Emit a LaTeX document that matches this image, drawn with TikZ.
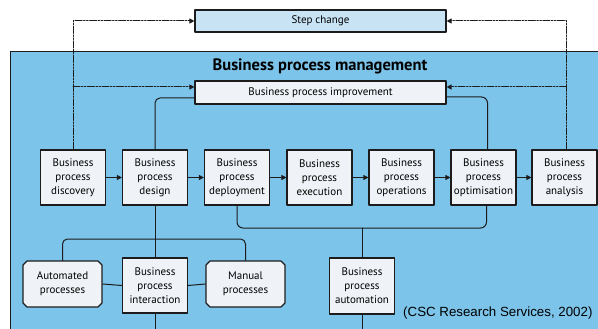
\documentclass[tikz,border=0pt]{standalone}
\usepackage{fontspec}
\setmainfont{PT Sans}
\newfontfamily\capfont{Liberation Sans}
\usetikzlibrary{arrows.meta,shapes.misc}
\definecolor{bpm_blue}{HTML}{7CC4EA}
\definecolor{step_fill}{HTML}{C8E4F4}
\definecolor{box_fill}{HTML}{EFF3F7}
\definecolor{line_dark}{HTML}{1C1C1C}

\tikzset{
    procbox/.style={draw=line_dark, fill=box_fill, line width=1.1pt,
        minimum width=65pt, minimum height=55pt, inner sep=1pt,
        align=center, font=\fontsize{11}{14}\selectfont},
    widebox/.style={draw=line_dark, line width=1.1pt, minimum width=251pt,
        minimum height=22pt, inner sep=1pt, font=\fontsize{11}{13}\selectfont},
    cutbox/.style={procbox, chamfered rectangle, chamfered rectangle xsep=2pt,
        chamfered rectangle ysep=2pt, minimum width=79pt, minimum height=46pt},
    flow/.style={line_dark, line width=1pt, -{Triangle[length=5pt,width=5pt]}},
    link/.style={line_dark, line width=1pt},
    feedback/.style={line_dark, line width=1pt,
        dash pattern=on 7pt off 1.5pt on 1.5pt off 1.5pt on 1.5pt off 1.5pt,
        -{Triangle[length=5pt,width=5pt]}},
}

\begin{document}
\begin{tikzpicture}[x=1pt, y=-1pt, line cap=round, line join=round]
    % Frame of the picture
    \clip (0,0) rectangle (598,329);
    \fill[white] (0,0) rectangle (598,329);

    % Management area
    \draw[line_dark, line width=1pt, fill=bpm_blue] (10,52) rectangle (610,340);
    \node[font=\fontsize{16.5}{18}\selectfont\bfseries] (title) at (320,66) {Business process management};

    % Top boxes
    \node[widebox, fill=step_fill] (step) at (320.5,21) {Step change};
    \node[widebox, fill=box_fill, minimum height=23pt] (bpi) at (320.5,92.5) {Business process improvement};

    % Process chain
    \node[procbox] (disc) at (73,177.5) {Business\\process\\discovery};
    \node[procbox] (design) at (155,177.5) {Business\\process\\design};
    \node[procbox] (deploy) at (237,177.5) {Business\\process\\deployment};
    \node[procbox] (exec) at (319.5,177.5) {Business\\process\\execution};
    \node[procbox] (ops) at (401.5,177.5) {Business\\process\\operations};
    \node[procbox] (optim) at (483.5,177.5) {Business\\process\\optimisation};
    \node[procbox] (anal) at (564.5,177.5) {Business\\process\\analysis};

    % Lower boxes
    \node[cutbox] (auto) at (62.5,284) {Automated\\processes};
    \node[procbox] (inter) at (155,285.5) {Business\\process\\interaction};
    \node[cutbox] (manual) at (245.5,284) {Manual\\processes};
    \node[procbox, minimum height=56pt] (autom) at (362,286) {Business\\process\\automation};

    % Source
    \node[font=\capfont\fontsize{13.3}{15}\selectfont, anchor=east] (source) at (596,313) {(CSC Research Services, 2002)};

    % Chain arrows
    \draw[flow] (disc) -- (design);
    \draw[flow] (design) -- (deploy);
    \draw[flow] (deploy) -- (exec);
    \draw[flow] (exec) -- (ops);
    \draw[flow] (ops) -- (optim);
    \draw[flow] (optim) -- (anal);

    % Feedback to the top boxes
    \draw[feedback] (disc.north) |- (step.west);
    \draw[feedback] (disc.north |- bpi.west) ++(0,-5.5) -- ([yshift=5.5pt]bpi.west);
    \draw[feedback] ([xshift=2pt]anal.north) |- (step.east);
    \draw[feedback] ([xshift=2pt]anal.north |- bpi.east) ++(0,-5.5) -- ([yshift=5.5pt]bpi.east);

    % Improvement loop
    \draw[link, rounded corners=5pt] (design.north) |- ([yshift=-5.5pt]bpi.west);
    \draw[link, rounded corners=6pt] ([yshift=-4.5pt]bpi.east) -| ([xshift=4pt]optim.north);
    \coordinate (loop) at (362,228);
    \draw[link, rounded corners=6pt] (deploy.south) |- (loop) -| ([xshift=3pt]optim.south);
    \draw[link] (autom.north) -- (loop);
    \draw[link] (autom.south) -- ++(0,30);

    % Interaction branch
    \coordinate (fork) at (155,239);
    \draw[link] (design.south) -- (inter.north);
    \draw[link, rounded corners=5pt] (auto.north) |- (fork) -| (manual.north);
    \draw[link] (auto.east) -- (inter.west);
    \draw[link] (inter.east) -- (manual.west);
    \draw[link] (inter.south) -- ++(0,30);
\end{tikzpicture}
\end{document}
